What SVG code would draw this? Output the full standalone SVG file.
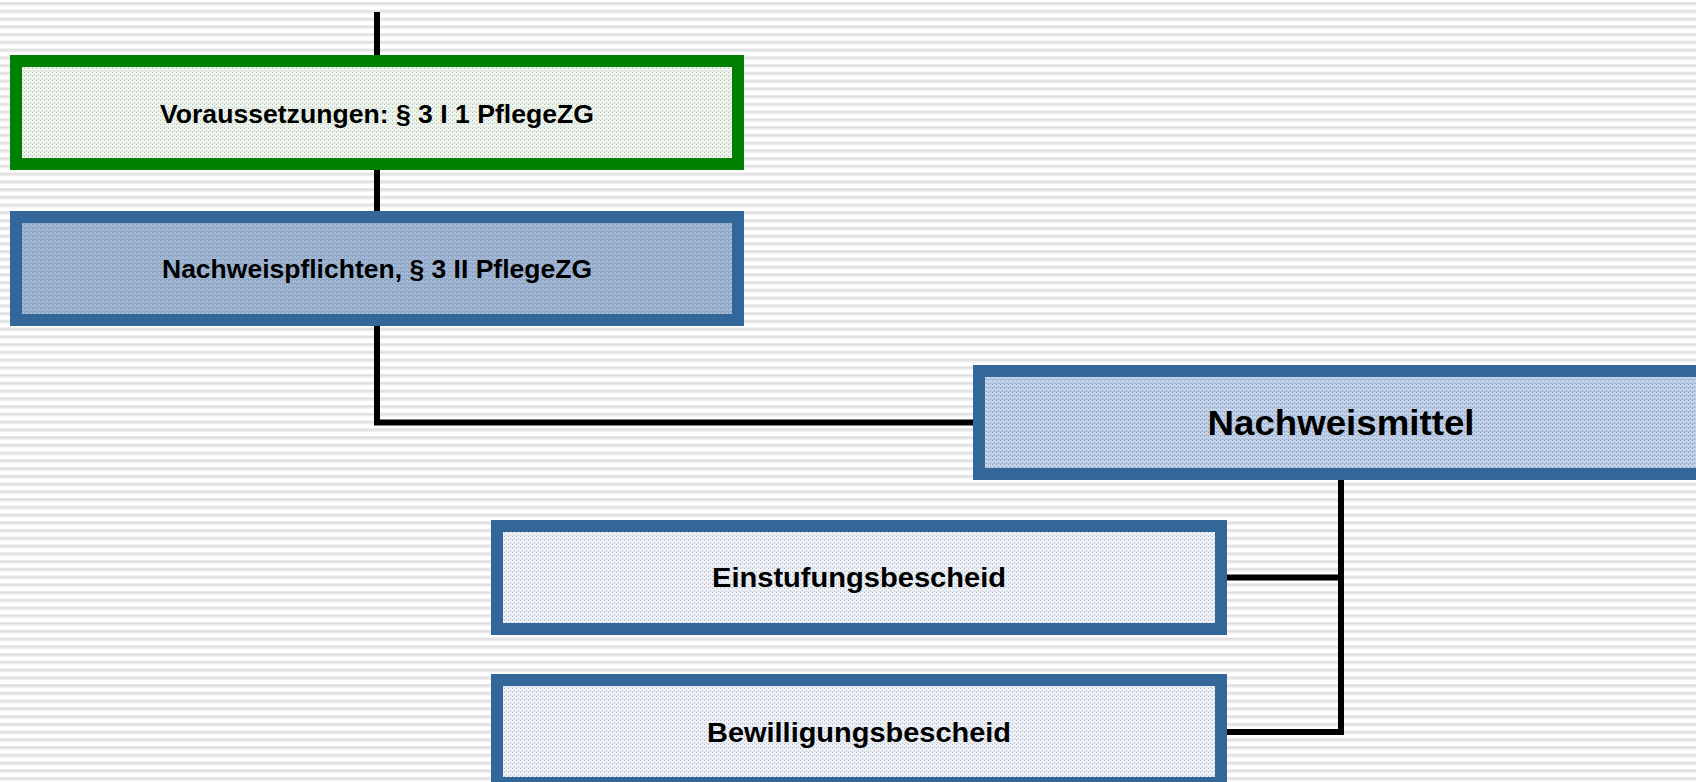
<svg xmlns="http://www.w3.org/2000/svg" width="1696" height="782" viewBox="0 0 1696 782">
  <defs>
    <pattern id="bg" width="8" height="7.75" patternUnits="userSpaceOnUse">
      <rect width="8" height="7.75" fill="#ffffff"/>
      <rect y="2" width="8" height="1" fill="#e8e8e8"/>
      <rect y="3" width="8" height="1.5" fill="#dadada"/>
      <rect y="4.5" width="8" height="1" fill="#eaeaea"/>
    </pattern>
    <pattern id="pGreen" width="4" height="4" patternUnits="userSpaceOnUse">
      <rect width="4" height="4" fill="#f3f5f3"/>
      <rect x="0" y="0" width="1" height="1" fill="#98cc98"/>
      <rect x="2" y="2" width="1" height="1" fill="#b8dcb8"/>
      <rect x="0" y="3" width="4" height="1" fill="#e4e6e4"/>
    </pattern>
    <pattern id="pDark" width="4" height="4" patternUnits="userSpaceOnUse">
      <rect width="4" height="4" fill="#a3b8d4"/>
      <rect x="0" y="0" width="1" height="1" fill="#7893b8"/>
      <rect x="2" y="2" width="1" height="1" fill="#8aa2c4"/>
      <rect x="0" y="3" width="4" height="1" fill="#94a9c6"/>
    </pattern>
    <pattern id="pMid" width="4" height="4" patternUnits="userSpaceOnUse">
      <rect width="4" height="4" fill="#c5d4e8"/>
      <rect x="0" y="0" width="1" height="1" fill="#84a0c8"/>
      <rect x="2" y="2" width="1" height="1" fill="#97afd2"/>
      <rect x="0" y="3" width="4" height="1" fill="#acbed8"/>
    </pattern>
    <pattern id="pLight" width="4" height="4" patternUnits="userSpaceOnUse">
      <rect width="4" height="4" fill="#f1f3f7"/>
      <rect x="0" y="0" width="1" height="1" fill="#a3b8d6"/>
      <rect x="2" y="2" width="1" height="1" fill="#bccbe0"/>
      <rect x="0" y="3" width="4" height="1" fill="#e0e3e8"/>
    </pattern>
  </defs>
  <style>
    .box { stroke-width: 12; }
    .green { stroke: #008000; fill: url(#pGreen); }
    .blue { stroke: #336699; }
    .dark { fill: url(#pDark); }
    .mid { fill: url(#pMid); }
    .light { fill: url(#pLight); }
    .lbl { font-family: "Liberation Sans", Arial, sans-serif; font-weight: bold; fill: #000000; text-anchor: middle; }
    .conn { stroke: #000000; stroke-width: 6; fill: none; stroke-linejoin: miter; stroke-linecap: butt; }
  </style>
  <rect width="1696" height="782" fill="url(#bg)"/>

  <g id="connectors">
    <path class="conn" d="M377,12 V56"/>
    <path class="conn" d="M377,169 V211"/>
    <path class="conn" d="M377,325 V422.5 H974"/>
    <path class="conn" d="M1341,479 V732 H1226"/>
    <path class="conn" d="M1226,577.5 H1341"/>
  </g>

  <g id="voraussetzungen">
    <rect class="box green" x="16" y="61" width="722" height="103"/>
    <text class="lbl" x="377" y="122.5" font-size="25" textLength="434" lengthAdjust="spacingAndGlyphs">Voraussetzungen: § 3 I 1 PflegeZG</text>
  </g>

  <g id="nachweispflichten">
    <rect class="box blue dark" x="16" y="217" width="722" height="103"/>
    <text class="lbl" x="377" y="277.5" font-size="25" textLength="430" lengthAdjust="spacingAndGlyphs">Nachweispflichten, § 3 II PflegeZG</text>
  </g>

  <g id="nachweismittel">
    <rect class="box blue mid" x="979" y="371" width="724" height="103"/>
    <text class="lbl" x="1341" y="435" font-size="35" textLength="267" lengthAdjust="spacingAndGlyphs">Nachweismittel</text>
  </g>

  <g id="einstufungsbescheid">
    <rect class="box blue light" x="497" y="526" width="724" height="103"/>
    <text class="lbl" x="859" y="587" font-size="27" textLength="294" lengthAdjust="spacingAndGlyphs">Einstufungsbescheid</text>
  </g>

  <g id="bewilligungsbescheid">
    <rect class="box blue light" x="497" y="680" width="724" height="103"/>
    <text class="lbl" x="859" y="741.5" font-size="27" textLength="304" lengthAdjust="spacingAndGlyphs">Bewilligungsbescheid</text>
  </g>
</svg>
